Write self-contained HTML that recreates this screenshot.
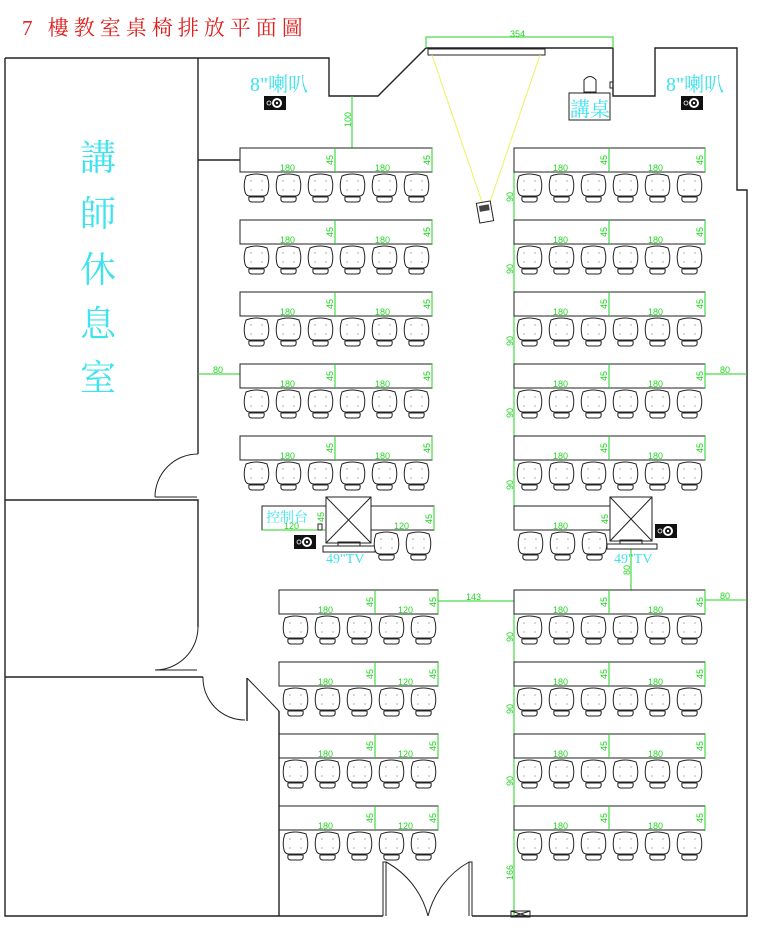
<!DOCTYPE html>
<html><head><meta charset="utf-8"><style>
html,body{margin:0;padding:0;background:#fff;}
svg{display:block;}
.w{fill:none;stroke:#222;stroke-width:1.4}
.t{fill:none;stroke:#222;stroke-width:1}
.g{stroke:#1fd51f;stroke-width:1;fill:none}
.d{fill:#1fd51f;font-family:"Liberation Sans",sans-serif;font-size:9px}
.c{fill:#3fe3ee;font-family:"Liberation Serif","Noto Serif CJK SC",serif}
</style></head><body>
<svg width="775" height="944" viewBox="0 0 775 944" xmlns="http://www.w3.org/2000/svg">
<defs>
<g id="ch">
<path d="M3,3 Q13,-1 24,3 Q27,11 25,19 Q24,23 20,23 L7,23 Q3,23 2,19 Q0,11 3,3Z" fill="#fff" stroke="#222" stroke-width="1"/>
<path d="M6,24 L21,24 Q22,29 18,29 L9,29 Q5,29 6,24Z" fill="#fff" stroke="#222" stroke-width="1"/>
<g fill="#777"><circle cx="8" cy="8" r="0.6"/><circle cx="19" cy="8" r="0.6"/><circle cx="8" cy="17" r="0.6"/><circle cx="19" cy="17" r="0.6"/></g>
</g>
<g id="spk"><rect x="0" y="0" width="22" height="14" fill="#111"/><circle cx="13" cy="7" r="5" fill="#fff"/><circle cx="13" cy="7" r="3" fill="#111"/><circle cx="13" cy="7" r="1.2" fill="#fff"/><circle cx="5" cy="7" r="2" fill="none" stroke="#fff" stroke-width="0.8"/></g>
<g id="row6L"><use href="#ch" x="243"/><use href="#ch" x="275"/><use href="#ch" x="307"/><use href="#ch" x="339"/><use href="#ch" x="371"/><use href="#ch" x="403"/></g>
<g id="row6R"><use href="#ch" x="516"/><use href="#ch" x="548"/><use href="#ch" x="580"/><use href="#ch" x="612"/><use href="#ch" x="644"/><use href="#ch" x="676"/></g>
<g id="row5L"><use href="#ch" x="282"/><use href="#ch" x="314"/><use href="#ch" x="346"/><use href="#ch" x="378"/><use href="#ch" x="410"/></g>
<g id="tabL"><rect class="t" x="240" y="0" width="95" height="24"/><rect class="t" x="335" y="0" width="97" height="24"/><path class="g" d="M335,0V24M432,0V24"/></g>
<g id="tabR"><rect class="t" x="514" y="0" width="95" height="24"/><rect class="t" x="609" y="0" width="96" height="24"/><path class="g" d="M609,0V24M705,0V24"/></g>
<g id="tabL2"><rect class="t" x="279" y="0" width="96" height="24"/><rect class="t" x="375" y="0" width="63" height="24"/><path class="g" d="M375,0V24M438,0V24"/></g>
</defs>

<!-- title -->
<text x="22" y="35" fill="#e02020" font-family="'Liberation Serif','Noto Serif CJK TC',serif" font-size="21" letter-spacing="5">7 樓教室桌椅排放平面圖</text>

<!-- walls -->
<path class="w" d="M5,58 H198 V454 M5,58 V916 H383 M472,916 H747 V190 H737 V48 H655 V96 H613 V48 H426 L378,96 H329 V58 H198"/>
<path class="w" d="M5,500 H198 V627 M5,677 H203 M247,678 V721 M279,711 V916 M198,160 H240"/>
<!-- doors -->
<path class="t" d="M155,497 A43,43 0 0 1 198,454 M155,497 H197 M155,670 A43,43 0 0 0 198,627 M155,670 H197 M203,677 A42,42 0 0 0 245,720 M247,678 L279,711"/>
<path class="t" d="M383,916 V862 H386 V916 M386,862 A85,85 0 0 1 428,916 M472,916 V862 H469 V916 M469,862 A85,85 0 0 0 428,916"/>

<!-- screen & projector -->
<rect class="t" x="428" y="49" width="117" height="6"/>
<path d="M432,55 L482,202 M540,55 L490,202" stroke="#f0f060" stroke-width="1"/>
<rect x="478" y="202" width="14" height="20" fill="#fff" stroke="#222" transform="rotate(-10 485 212)"/>
<rect x="480" y="205" width="10" height="6" fill="#444" transform="rotate(-10 485 212)"/>
<path class="g" d="M426,48 V37 H613 V48"/><text class="d" x="510" y="37">354</text>

<!-- lectern -->
<rect class="t" x="569" y="93" width="41" height="27"/>
<path class="t" d="M584,92 V80 Q590,73 596,80 V92 Z"/>
<rect class="t" x="610" y="82" width="3" height="6"/>
<text class="c" x="570" y="116" font-size="20">講桌</text>
<text class="c" x="250" y="91" font-size="20">8"喇叭</text>
<text class="c" x="666" y="91" font-size="20">8"喇叭</text>
<use href="#spk" x="264" y="96"/><use href="#spk" x="681" y="96"/>

<!-- lounge -->
<g class="c" font-size="36"><text x="80" y="170">講</text><text x="80" y="226">師</text><text x="80" y="282">休</text><text x="80" y="336">息</text><text x="80" y="390">室</text></g>

<!-- dims -->
<path class="g" d="M352,96 V148 M514,172 V506 M514,614 V916 M198,374 H240 M705,374 H747 M705,600 H747 M438,601 H514 M631,549 V590"/>
<text class="d" x="213" y="373">80</text><text class="d" x="720" y="373">80</text><text class="d" x="720" y="599">80</text><text class="d" x="466" y="600">143</text>
<text class="d" transform="translate(351,127) rotate(-90)">100</text>
<text class="d" transform="translate(513,202) rotate(-90)">90</text>
<text class="d" transform="translate(513,274) rotate(-90)">90</text>
<text class="d" transform="translate(513,346) rotate(-90)">90</text>
<text class="d" transform="translate(513,418) rotate(-90)">90</text>
<text class="d" transform="translate(513,490) rotate(-90)">90</text>
<text class="d" transform="translate(630,575) rotate(-90)">80</text>
<text class="d" transform="translate(513,642) rotate(-90)">90</text>
<text class="d" transform="translate(513,714) rotate(-90)">90</text>
<text class="d" transform="translate(513,786) rotate(-90)">90</text>
<text class="d" transform="translate(513,880) rotate(-90)">166</text>
<rect class="t" x="511" y="911" width="19" height="6"/><path class="t" d="M511,911 L530,917 M530,911 L511,917"/>

<!-- upper rows -->
<g transform="translate(0,148)"><use href="#tabL"/><use href="#tabR"/><use href="#row6L" y="25"/><use href="#row6R" y="25"/>
<g class="d"><text x="280" y="23">180</text><text x="375" y="23">180</text><text x="553" y="23">180</text><text x="648" y="23">180</text>
<text transform="translate(333,17) rotate(-90)">45</text><text transform="translate(430,17) rotate(-90)">45</text><text transform="translate(607,17) rotate(-90)">45</text><text transform="translate(703,17) rotate(-90)">45</text></g></g>
<g transform="translate(0,220)"><use href="#tabL"/><use href="#tabR"/><use href="#row6L" y="25"/><use href="#row6R" y="25"/>
<g class="d"><text x="280" y="23">180</text><text x="375" y="23">180</text><text x="553" y="23">180</text><text x="648" y="23">180</text>
<text transform="translate(333,17) rotate(-90)">45</text><text transform="translate(430,17) rotate(-90)">45</text><text transform="translate(607,17) rotate(-90)">45</text><text transform="translate(703,17) rotate(-90)">45</text></g></g>
<g transform="translate(0,292)"><use href="#tabL"/><use href="#tabR"/><use href="#row6L" y="25"/><use href="#row6R" y="25"/>
<g class="d"><text x="280" y="23">180</text><text x="375" y="23">180</text><text x="553" y="23">180</text><text x="648" y="23">180</text>
<text transform="translate(333,17) rotate(-90)">45</text><text transform="translate(430,17) rotate(-90)">45</text><text transform="translate(607,17) rotate(-90)">45</text><text transform="translate(703,17) rotate(-90)">45</text></g></g>
<g transform="translate(0,364)"><use href="#tabL"/><use href="#tabR"/><use href="#row6L" y="25"/><use href="#row6R" y="25"/>
<g class="d"><text x="280" y="23">180</text><text x="375" y="23">180</text><text x="553" y="23">180</text><text x="648" y="23">180</text>
<text transform="translate(333,17) rotate(-90)">45</text><text transform="translate(430,17) rotate(-90)">45</text><text transform="translate(607,17) rotate(-90)">45</text><text transform="translate(703,17) rotate(-90)">45</text></g></g>
<g transform="translate(0,436)"><use href="#tabL"/><use href="#tabR"/><use href="#row6L" y="25"/><use href="#row6R" y="25"/>
<g class="d"><text x="280" y="23">180</text><text x="375" y="23">180</text><text x="553" y="23">180</text><text x="648" y="23">180</text>
<text transform="translate(333,17) rotate(-90)">45</text><text transform="translate(430,17) rotate(-90)">45</text><text transform="translate(607,17) rotate(-90)">45</text><text transform="translate(703,17) rotate(-90)">45</text></g></g>

<!-- row 6 -->
<rect class="t" x="262" y="506" width="64" height="24"/><path class="g" d="M262,530 H326 M326,506 V530"/>
<text class="c" x="266" y="522" font-size="14">控制台</text>
<text class="d" x="284" y="529">120</text><text class="d" transform="translate(324,522) rotate(-90)">45</text>
<rect class="t" x="318" y="524" width="4" height="6"/>
<rect class="t" x="326" y="497" width="45" height="46"/><path class="t" d="M326,497 L371,543 M371,497 L326,543"/>
<rect class="t" x="338" y="542" width="22" height="4"/><rect class="t" x="323" y="546" width="52" height="6"/>
<use href="#spk" x="294" y="535"/>
<text class="c" x="326" y="563" font-size="14">49"TV</text>
<rect class="t" x="371" y="506" width="63" height="24"/><path class="g" d="M434,506 V530"/>
<text class="d" x="394" y="529">120</text><text class="d" transform="translate(432,524) rotate(-90)">45</text>
<use href="#ch" x="373" y="531"/><use href="#ch" x="405" y="531"/>

<rect class="t" x="514" y="506" width="96" height="24"/><path class="g" d="M610,506 V530"/>
<text class="d" x="553" y="529">180</text><text class="d" transform="translate(608,524) rotate(-90)">45</text>
<rect class="t" x="610" y="497" width="42" height="44"/><path class="t" d="M610,497 L652,541 M652,497 L610,541"/>
<rect class="t" x="620" y="540" width="22" height="4"/><rect class="t" x="607" y="544" width="50" height="5"/>
<use href="#spk" x="655" y="524"/>
<text class="c" x="614" y="563" font-size="14">49"TV</text>
<use href="#ch" x="517" y="531"/><use href="#ch" x="549" y="531"/><use href="#ch" x="581" y="531"/>

<!-- lower rows -->
<g transform="translate(0,590)"><use href="#tabL2"/><use href="#tabR"/><use href="#row5L" y="25"/><use href="#row6R" y="25"/>
<g class="d"><text x="318" y="23">180</text><text x="398" y="23">120</text><text x="553" y="23">180</text><text x="648" y="23">180</text>
<text transform="translate(373,17) rotate(-90)">45</text><text transform="translate(436,17) rotate(-90)">45</text><text transform="translate(607,17) rotate(-90)">45</text><text transform="translate(703,17) rotate(-90)">45</text></g></g>
<g transform="translate(0,662)"><use href="#tabL2"/><use href="#tabR"/><use href="#row5L" y="25"/><use href="#row6R" y="25"/>
<g class="d"><text x="318" y="23">180</text><text x="398" y="23">120</text><text x="553" y="23">180</text><text x="648" y="23">180</text>
<text transform="translate(373,17) rotate(-90)">45</text><text transform="translate(436,17) rotate(-90)">45</text><text transform="translate(607,17) rotate(-90)">45</text><text transform="translate(703,17) rotate(-90)">45</text></g></g>
<g transform="translate(0,734)"><use href="#tabL2"/><use href="#tabR"/><use href="#row5L" y="25"/><use href="#row6R" y="25"/>
<g class="d"><text x="318" y="23">180</text><text x="398" y="23">120</text><text x="553" y="23">180</text><text x="648" y="23">180</text>
<text transform="translate(373,17) rotate(-90)">45</text><text transform="translate(436,17) rotate(-90)">45</text><text transform="translate(607,17) rotate(-90)">45</text><text transform="translate(703,17) rotate(-90)">45</text></g></g>
<g transform="translate(0,806)"><use href="#tabL2"/><use href="#tabR"/><use href="#row5L" y="25"/><use href="#row6R" y="25"/>
<g class="d"><text x="318" y="23">180</text><text x="398" y="23">120</text><text x="553" y="23">180</text><text x="648" y="23">180</text>
<text transform="translate(373,17) rotate(-90)">45</text><text transform="translate(436,17) rotate(-90)">45</text><text transform="translate(607,17) rotate(-90)">45</text><text transform="translate(703,17) rotate(-90)">45</text></g></g>
</svg>
</body></html>
